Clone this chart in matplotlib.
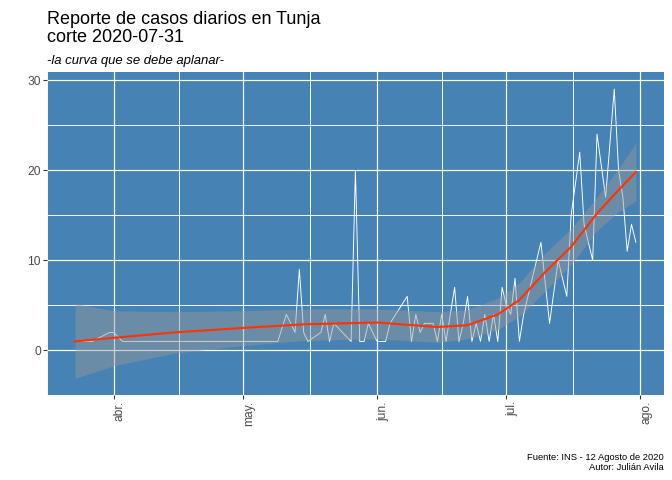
import numpy as np
import pandas as pd
import matplotlib
matplotlib.use("Agg")
import matplotlib.pyplot as plt
import matplotlib.dates as mdates

plt.rcParams['font.family'] = ['Liberation Sans', 'DejaVu Sans']

# casos diarios reportados (dias sin casos no aparecen)
fechas = ["2020-03-23", "2020-03-27", "2020-03-31", "2020-04-01", "2020-04-03",
          "2020-05-09", "2020-05-11", "2020-05-13", "2020-05-14", "2020-05-15",
          "2020-05-16", "2020-05-19", "2020-05-20", "2020-05-21", "2020-05-22",
          "2020-05-26", "2020-05-27", "2020-05-28", "2020-05-29", "2020-05-30",
          "2020-06-01", "2020-06-03", "2020-06-04", "2020-06-08", "2020-06-09",
          "2020-06-10", "2020-06-11", "2020-06-12", "2020-06-14", "2020-06-15",
          "2020-06-16", "2020-06-17", "2020-06-19", "2020-06-20", "2020-06-21",
          "2020-06-22", "2020-06-23", "2020-06-24", "2020-06-25", "2020-06-26",
          "2020-06-27", "2020-06-28", "2020-06-29", "2020-06-30", "2020-07-01",
          "2020-07-02", "2020-07-03", "2020-07-04", "2020-07-05", "2020-07-06",
          "2020-07-07", "2020-07-08", "2020-07-09", "2020-07-11", "2020-07-13",
          "2020-07-15", "2020-07-16", "2020-07-18", "2020-07-19", "2020-07-21",
          "2020-07-22", "2020-07-24", "2020-07-26", "2020-07-27", "2020-07-28",
          "2020-07-29", "2020-07-30", "2020-07-31"]
casos = [1, 1, 2, 2, 1,
         1, 4, 2, 9, 2,
         1, 2, 4, 1, 3,
         1, 20, 1, 1, 3,
         1, 1, 3, 6, 1,
         4, 2, 3, 3, 1,
         4, 1, 7, 1, 3,
         6, 1, 3, 1, 4,
         1, 4, 1, 7, 5,
         4, 8, 1, 4, 6,
         8, 10, 12, 3, 10,
         6, 15, 22, 14, 10,
         24, 17, 29, 20, 17,
         11, 14, 12]

# curva suavizada (loess) y banda de confianza
fechas_suave = ["2020-03-23", "2020-04-01", "2020-04-15", "2020-05-01", "2020-05-15",
                "2020-06-01", "2020-06-15", "2020-06-22", "2020-06-29", "2020-07-04",
                "2020-07-10", "2020-07-16", "2020-07-22", "2020-07-27", "2020-07-31"]
ajuste = [1.0, 1.4, 2.0, 2.5, 2.9, 3.1, 2.6, 2.8, 4.0, 5.6, 8.7, 11.5, 15.2, 17.8, 19.8]
banda_inf = [-3.1, -1.7, -0.3, 0.55, 1.1, 1.3, 0.9, 1.3, 2.3, 3.8, 6.6, 9.5, 13.3, 15.4, 16.6]
banda_sup = [5.2, 4.4, 4.3, 4.4, 4.6, 4.6, 4.3, 4.5, 5.8, 7.5, 10.8, 13.5, 17.0, 20.2, 23.0]

meses = ["2020-04-01", "2020-05-01", "2020-06-01", "2020-07-01", "2020-08-01"]
etiquetas = ["abr.", "may.", "jun.", "jul.", "ago."]

x = pd.to_datetime(fechas)
xs = pd.to_datetime(fechas_suave)
xm = mdates.date2num(pd.to_datetime(meses))

fig = plt.figure(figsize=(7, 5), dpi=96)
ax = fig.add_axes([0.0699, 0.177, 0.918, 0.673])
ax.set_facecolor("steelblue")

ax.plot(x, casos, color="white", lw=0.7, zorder=2)
ax.fill_between(xs, banda_inf, banda_sup, color="#999999", alpha=0.45, lw=0, zorder=3)
ax.plot(xs, ajuste, color="#FF3300", lw=1.6, zorder=4)

ax.set_xticks(xm)
ax.set_xticklabels(etiquetas, rotation=90, ha="left", va="top")
menores = np.concatenate([[xm[0] - 15.5], (xm[:-1] + xm[1:]) / 2])
ax.set_xticks(menores, minor=True)
ax.set_yticks([0, 10, 20, 30])
ax.set_yticks([-5, 5, 15, 25], minor=True)

# limites con expansion de 5% al estilo ggplot (despues de los ticks)
x0 = mdates.date2num(x[0])
x1 = mdates.date2num(x[-1])
pad = 0.05 * (x1 - x0)
ax.set_xlim(x0 - pad, x1 + pad)
ax.set_ylim(-4.95, 30.9)

ax.grid(True, which="major", color="white", lw=0.9)
ax.grid(True, which="minor", color="white", lw=0.7)
ax.set_axisbelow(True)
for s in ax.spines.values():
    s.set_visible(False)
ax.tick_params(which="major", length=3, width=0.8, color="#333333",
               labelcolor="#4D4D4D", labelsize=9, pad=1.5)
ax.tick_params(which="minor", length=0)

fig.text(0.0699, 0.977, "Reporte de casos diarios en Tunja\ncorte 2020-07-31",
         fontsize=13.5, ha="left", va="top", linespacing=1.08)
fig.text(0.0699, 0.867, "-la curva que se debe aplanar-", fontsize=9.8,
         style="italic", ha="left", va="baseline")
fig.text(0.988, 0.017, "Fuente: INS - 12 Agosto de 2020\nAutor: Julián Avila",
         fontsize=7, ha="right", va="bottom", linespacing=1.1)

fig.savefig("out.png", dpi=96)
